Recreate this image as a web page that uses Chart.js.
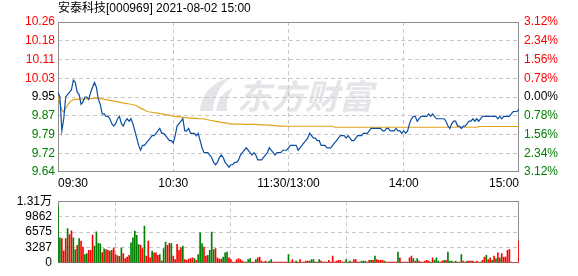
<!DOCTYPE html>
<html>
<head>
<meta charset="utf-8">
<script src="https://cdn.jsdelivr.net/npm/chart.js@4.4.1/dist/chart.umd.min.js"></script>
<style>
  html, body { margin: 0; padding: 0; background: #fff; width: 578px; height: 276px; overflow: hidden; }
  #wrap { position: relative; width: 578px; height: 276px; }
  #price { position: absolute; left: 0; top: 0; }
  #volume { position: absolute; left: 0; top: 188px; }
  #title { position: absolute; left: 58px; top: 0; font: 12px "Liberation Sans", "Noto Sans CJK SC", sans-serif; line-height: 16px; color: #000; white-space: nowrap; }
</style>
</head>
<body>
<div id="wrap">
  <canvas id="price" width="578" height="190"></canvas>
  <canvas id="volume" width="578" height="88"></canvas>
  <div id="title">安泰科技[000969] 2021-08-02 15:00</div>
</div>
<script>
// Data (one value per minute, 09:30 .. 15:00)
const PREV_CLOSE = 9.95;
const PRICE_MIN = 9.64;
const PRICE_MAX = 10.26;
const VOL_MAX = 13149;

const timeTicks = ['09:30', '10:30', '11:30/13:00', '14:00', '15:00'];
const timeTickMinutes = [0, 60, 120, 180, 240];
const priceTickLabels = ['9.64', '9.72', '9.79', '9.87', '9.95', '10.03', '10.11', '10.18', '10.26'];
const pctTickLabels = ['3.12%', '2.34%', '1.56%', '0.78%', '0.00%', '0.78%', '1.56%', '2.34%', '3.12%'];
const volTickLabels = ['0', '3287', '6575', '9862', '1.31万'];

const prices = [
  9.97, 9.95, 9.81, 9.86, 9.95, 9.96, 9.97, 9.98, 10.02, 10.01,
  9.97, 9.96, 9.92, 9.93, 9.95, 9.95, 9.94, 9.97, 9.99, 10.01,
  9.99, 9.94, 9.92, 9.88, 9.88, 9.87, 9.87, 9.86, 9.84, 9.83,
  9.84, 9.86, 9.87, 9.84, 9.83, 9.85, 9.86, 9.85, 9.86, 9.84,
  9.81, 9.78, 9.75, 9.73, 9.75, 9.75, 9.76, 9.77, 9.78, 9.79,
  9.79, 9.80, 9.81, 9.82, 9.80, 9.80, 9.79, 9.78, 9.77, 9.77,
  9.76, 9.79, 9.83, 9.84, 9.85, 9.86, 9.81, 9.81, 9.82, 9.80,
  9.80, 9.80, 9.79, 9.80, 9.77, 9.74, 9.72, 9.72, 9.72, 9.71,
  9.70, 9.68, 9.67, 9.68, 9.70, 9.71, 9.70, 9.68, 9.67, 9.66,
  9.67, 9.67, 9.68, 9.68, 9.69, 9.71, 9.72, 9.73, 9.74, 9.73,
  9.72, 9.71, 9.72, 9.71, 9.69, 9.69, 9.69, 9.70, 9.71, 9.72,
  9.74, 9.73, 9.72, 9.71, 9.72, 9.72, 9.72, 9.73, 9.73, 9.73,
  9.74, 9.75, 9.75, 9.75, 9.75, 9.73, 9.74, 9.75, 9.76, 9.77,
  9.78, 9.80, 9.79, 9.78, 9.78, 9.77, 9.77, 9.75, 9.75, 9.75,
  9.74, 9.74, 9.74, 9.75, 9.76, 9.77, 9.78, 9.79, 9.79, 9.79,
  9.78, 9.79, 9.78, 9.77, 9.77, 9.78, 9.79, 9.79, 9.79, 9.80,
  9.80, 9.80, 9.81, 9.82, 9.82, 9.82, 9.82, 9.82, 9.82, 9.81,
  9.81, 9.82, 9.82, 9.81, 9.81, 9.81, 9.82, 9.81, 9.81, 9.80,
  9.81, 9.80, 9.81, 9.84, 9.86, 9.87, 9.87, 9.85, 9.86, 9.87,
  9.87, 9.87, 9.87, 9.88, 9.87, 9.88, 9.87, 9.86, 9.86, 9.86,
  9.86, 9.86, 9.85, 9.83, 9.82, 9.84, 9.85, 9.85, 9.83, 9.83,
  9.82, 9.83, 9.83, 9.84, 9.85, 9.85, 9.86, 9.85, 9.86, 9.85,
  9.86, 9.87, 9.87, 9.87, 9.87, 9.87, 9.87, 9.87, 9.87, 9.86,
  9.87, 9.86, 9.87, 9.87, 9.87, 9.87, 9.88, 9.89, 9.89, 9.89,
  9.90
];

const avgPrices = [
  9.951, 9.924, 9.896, 9.889, 9.903, 9.917, 9.928, 9.935, 9.939, 9.940,
  9.940, 9.941, 9.941, 9.941, 9.942, 9.942, 9.943, 9.943, 9.944, 9.945,
  9.945, 9.944, 9.943, 9.942, 9.940, 9.939, 9.938, 9.936, 9.935, 9.933,
  9.932, 9.930, 9.929, 9.927, 9.926, 9.924, 9.923, 9.921, 9.920, 9.918,
  9.917, 9.913, 9.909, 9.904, 9.900, 9.896, 9.892, 9.889, 9.888, 9.887,
  9.885, 9.884, 9.883, 9.881, 9.880, 9.879, 9.877, 9.876, 9.875, 9.873,
  9.871, 9.870, 9.869, 9.868, 9.867, 9.866, 9.865, 9.865, 9.864, 9.863,
  9.863, 9.862, 9.862, 9.861, 9.860, 9.860, 9.859, 9.857, 9.856, 9.854,
  9.853, 9.851, 9.849, 9.848, 9.847, 9.845, 9.844, 9.843, 9.842, 9.840,
  9.839, 9.838, 9.838, 9.838, 9.838, 9.838, 9.838, 9.837, 9.837, 9.837,
  9.837, 9.837, 9.837, 9.837, 9.836, 9.836, 9.835, 9.835, 9.835, 9.834,
  9.834, 9.833, 9.833, 9.832, 9.831, 9.831, 9.830, 9.830, 9.829, 9.829,
  9.828, 9.829, 9.829, 9.829, 9.829, 9.829, 9.829, 9.829, 9.829, 9.829,
  9.829, 9.829, 9.829, 9.829, 9.829, 9.829, 9.829, 9.829, 9.829, 9.829,
  9.829, 9.829, 9.829, 9.829, 9.825, 9.825, 9.825, 9.825, 9.825, 9.825,
  9.825, 9.825, 9.825, 9.825, 9.825, 9.825, 9.825, 9.825, 9.825, 9.825,
  9.825, 9.825, 9.825, 9.825, 9.825, 9.825, 9.825, 9.825, 9.825, 9.825,
  9.825, 9.825, 9.825, 9.825, 9.825, 9.825, 9.825, 9.825, 9.825, 9.825,
  9.825, 9.825, 9.825, 9.825, 9.825, 9.825, 9.825, 9.825, 9.825, 9.825,
  9.825, 9.825, 9.825, 9.825, 9.825, 9.825, 9.825, 9.825, 9.825, 9.825,
  9.825, 9.825, 9.825, 9.825, 9.825, 9.825, 9.825, 9.825, 9.825, 9.825,
  9.825, 9.825, 9.825, 9.825, 9.825, 9.825, 9.825, 9.825, 9.825, 9.828,
  9.828, 9.828, 9.828, 9.828, 9.828, 9.828, 9.828, 9.828, 9.828, 9.828,
  9.828, 9.828, 9.828, 9.828, 9.828, 9.828, 9.828, 9.828, 9.828, 9.828,
  9.828
];

const volumes = [
  12142, 5331, 5153, 2547, 5153, 7285, 6041, 6811, 5331, 2843,
  3731, 5153, 4620, 3376, 1777, 1955, 2665, 2665, 5923, 3554,
  6634, 4146, 4028, 2192, 2962, 2843, 2665, 2488, 2665, 3198,
  1777, 1481, 1362, 3198, 1955, 888, 1244, 1599, 4265, 5331,
  6752, 5864, 3909, 3731, 3021, 7818, 1422, 4620, 1066, 2488,
  2132, 2132, 1599, 1777, 415, 3021, 4442, 3731, 4146, 4087,
  1422, 711, 3968, 2665, 3258, 3554, 711, 533, 770, 888,
  1066, 888, 533, 1777, 6397, 4087, 3376, 1422, 1599, 2665,
  6575, 2843, 3021, 1066, 770, 770, 1244, 2132, 2310, 1066,
  711, 178, 178, 711, 888, 711, 355, 178, 178, 711,
  888, 178, 178, 711, 1066, 1244, 355, 178, 355, 178,
  355, 711, 178, 178, 178, 178, 178, 178, 178, 178,
  1777, 178, 711, 178, 355, 178, 711, 178, 178, 355,
  355, 355, 711, 711, 178, 178, 711, 355, 178, 178,
  178, 533, 178, 1422, 178, 355, 533, 533, 178, 178,
  711, 178, 355, 178, 711, 711, 178, 178, 355, 355,
  355, 178, 533, 533, 533, 1422, 711, 533, 533, 533,
  355, 178, 178, 178, 178, 178, 178, 2310, 1066, 178,
  178, 178, 178, 1066, 1422, 888, 355, 888, 355, 178,
  178, 355, 533, 355, 178, 1066, 533, 1066, 355, 178,
  355, 533, 533, 2310, 355, 355, 178, 355, 178, 178,
  1777, 355, 178, 355, 355, 355, 355, 178, 355, 178,
  178, 533, 1244, 1599, 711, 1066, 533, 1422, 888, 2132,
  1066, 1955, 1244, 1244, 2665, 2843, 178, 100, 100, 100,
  4620
];

// U = trade minute went up (red), D = went down (green)
const volDirection = (
  'DDUUUDUUDD' + 'UDUUDDUUUD' + 'DDDUDUUDUU' + 'UDUDUUUUDD' + 'DDDUUDUUUD' +
  'UUUDUDDUUD' + 'UUUUUDUUUU' + 'UDUDDDUUDD' + 'DDUUUUDDDU' + 'UUUUUUUDUD' +
  'DUUDUUUUUU' + 'DDUUUUUUUU' + 'DUUUDUUUUU' + 'UDDDUUDUUU' + 'UUUUUUUUUD' +
  'DUDUUUUUDD' + 'DUUDUDUUUU' + 'DUUUUUUDUU' + 'DUUUUDUDUU' + 'UUUUDUDDDU' +
  'UDUDDDUDUU' + 'DUUDUUUDUU' + 'DUUDUUDUDU' + 'DUUUUUUUUU' + 'U'
).split('');

const minutes = prices.map((_, i) => i);

const RED = '#ff0000';
const GREEN = '#008000';
const DARK = '#000000';
const GRID = '#c8c8c8';
const FRAME = '#8e8e8e';
const FONT = { family: '"Liberation Sans", "Noto Sans CJK SC", sans-serif', size: 12 };

const priceTickValues = priceTickLabels.map((_, i) => PRICE_MIN + i * (PRICE_MAX - PRICE_MIN) / 8);
const volTickValues = volTickLabels.map((_, i) => i * VOL_MAX / 4);

const tickColor = (i) => (i < 4 ? GREEN : i === 4 ? DARK : RED);

// Solid frame round the plot area
const frame = {
  id: 'frame',
  beforeDatasetsDraw(chart) {
    const { ctx, chartArea: a } = chart;
    ctx.save();
    ctx.strokeStyle = FRAME;
    ctx.lineWidth = 1;
    ctx.strokeRect(Math.round(a.left) + 0.5, Math.round(a.top) + 0.5,
      Math.round(a.right - a.left) - 1, Math.round(a.bottom - a.top) - 1);
    ctx.restore();
  }
};

// Faint site watermark behind the price line
const watermark = {
  id: 'watermark',
  beforeDraw(chart) {
    const { ctx } = chart;
    ctx.save();
    ctx.fillStyle = '#e4e4e9';
    ctx.beginPath();
    ctx.moveTo(200, 111);
    ctx.quadraticCurveTo(201, 86, 231, 77);
    ctx.quadraticCurveTo(214, 90, 213, 111);
    ctx.closePath();
    ctx.fill();
    ctx.beginPath();
    ctx.moveTo(216, 111);
    ctx.quadraticCurveTo(218, 94, 233, 88);
    ctx.quadraticCurveTo(225, 98, 227, 111);
    ctx.closePath();
    ctx.fill();
    ctx.font = 'italic bold 34px "Noto Sans CJK SC"';
    ctx.textBaseline = 'middle';
    ctx.fillText('东方财富', 237, 96);
    ctx.restore();
  }
};

const priceChart = new Chart(document.getElementById('price'), {
  type: 'line',
  data: {
    labels: minutes,
    datasets: [
      { data: prices, borderColor: '#0c4ea2', borderWidth: 1.2, pointRadius: 0, tension: 0 },
      { data: avgPrices, borderColor: '#e3a216', borderWidth: 1.2, pointRadius: 0, tension: 0 }
    ]
  },
  options: {
    responsive: false,
    animation: false,
    devicePixelRatio: 1,
    layout: { padding: { top: 22, left: 0, right: 0, bottom: 0 } },
    plugins: { legend: { display: false }, tooltip: { enabled: false } },
    scales: {
      x: {
        type: 'linear',
        min: 0,
        max: 240,
        afterBuildTicks: (s) => { s.ticks = timeTickMinutes.map(v => ({ value: v })); },
        afterFit: (s) => { s.height = 18; },
        grid: { color: (c) => (c.index === 0 || c.index === 4 ? 'transparent' : GRID), drawTicks: false },
        border: { display: false, dash: [4, 3] },
        ticks: { callback: (v, i) => timeTicks[i], align: 'inner', padding: 4, color: DARK, font: FONT, maxRotation: 0, autoSkip: false }
      },
      y: {
        position: 'left',
        min: PRICE_MIN,
        max: PRICE_MAX,
        afterBuildTicks: (s) => { s.ticks = priceTickValues.map(v => ({ value: v })); },
        afterFit: (s) => { s.width = 58; },
        grid: { color: (c) => (c.index === 0 || c.index === 8 ? 'transparent' : GRID), drawTicks: false },
        border: { display: false, dash: [4, 3] },
        ticks: { callback: (v, i) => priceTickLabels[i], color: (c) => tickColor(c.index), padding: 3, font: FONT }
      },
      y2: {
        position: 'right',
        min: PRICE_MIN,
        max: PRICE_MAX,
        afterBuildTicks: (s) => { s.ticks = priceTickValues.map(v => ({ value: v })); },
        afterFit: (s) => { s.width = 59; },
        grid: { display: false, drawTicks: false },
        border: { display: false },
        ticks: { callback: (v, i) => pctTickLabels[i], color: (c) => tickColor(c.index), padding: 5, font: FONT }
      }
    }
  },
  plugins: [watermark, frame]
});

const volumeChart = new Chart(document.getElementById('volume'), {
  type: 'bar',
  data: {
    labels: minutes,
    datasets: [{
      data: volumes,
      backgroundColor: (c) => (volDirection[c.dataIndex] === 'U' ? RED : GREEN),
      barThickness: 1,
      borderWidth: 0
    }]
  },
  options: {
    responsive: false,
    animation: false,
    devicePixelRatio: 1,
    layout: { padding: { top: 8, left: 0, right: 59, bottom: 0 } },
    plugins: { legend: { display: false }, tooltip: { enabled: false } },
    scales: {
      x: {
        type: 'linear',
        min: 0,
        max: 240,
        offset: false,
        afterBuildTicks: (s) => { s.ticks = timeTickMinutes.map(v => ({ value: v })); },
        afterFit: (s) => { s.height = 6; },
        grid: { color: (c) => (c.index === 0 || c.index === 4 ? 'transparent' : GRID), drawTicks: false },
        border: { display: false, dash: [4, 3] },
        ticks: { display: false }
      },
      y: {
        position: 'left',
        min: 0,
        max: VOL_MAX,
        afterBuildTicks: (s) => { s.ticks = volTickValues.map(v => ({ value: v })); },
        afterFit: (s) => { s.width = 58; },
        grid: { color: (c) => (c.index === 0 || c.index === 4 ? 'transparent' : GRID), drawTicks: false },
        border: { display: false, dash: [4, 3] },
        ticks: { callback: (v, i) => volTickLabels[i], color: DARK, padding: 6, font: FONT }
      }
    }
  },
  plugins: [frame]
});
</script>
</body>
</html>
